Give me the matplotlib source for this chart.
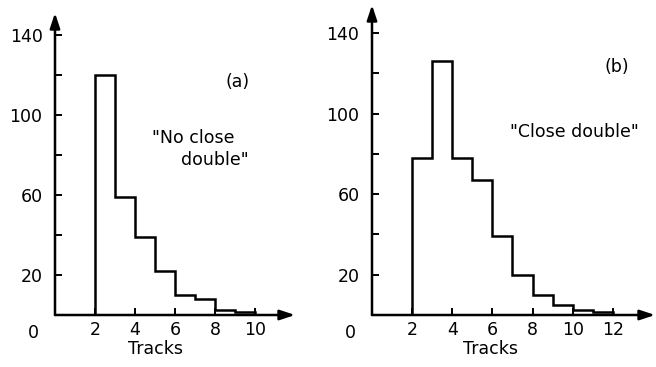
import matplotlib
matplotlib.use("Agg")
import matplotlib.pyplot as plt

# panel (a): "No close double"
edges_a = [2, 3, 4, 5, 6, 7, 8, 9, 10]
counts_a = [120, 59, 39, 22, 10, 8, 2.5, 1.5]
xticks_a = [2, 4, 6, 8, 10]

# panel (b): "Close double"
edges_b = [2, 3, 4, 5, 6, 7, 8, 9, 10, 11, 12]
counts_b = [78, 126, 78, 67, 39, 20, 10, 5, 2.5, 1.5]
xticks_b = [2, 4, 6, 8, 10, 12]

yticks_major = [20, 60, 100, 140]
yticks_minor = [40, 80, 120]

plt.rcParams['font.family'] = 'DejaVu Sans'
plt.rcParams['font.size'] = 12.5

W, H = 656, 367
fig = plt.figure(figsize=(W / 100, H / 100), dpi=100)

arrow = dict(arrowstyle='-|>,head_length=0.9,head_width=0.3', color='black',
             lw=1.8, shrinkA=0, shrinkB=0, mutation_scale=10)


def panel(rect, edges, counts, xticks, xmax, ymax, tag, tagpos, notes, tracks_x):
    ax = fig.add_axes(rect)
    ax.stairs(counts, edges, color='black', linewidth=1.8, baseline=0)
    ax.set_xlim(0, xmax)
    ax.set_ylim(0, ymax)
    for s in ax.spines.values():
        s.set_visible(False)
    # axes drawn as arrows
    ax.annotate('', xy=(1, 0), xytext=(0, 0), xycoords='axes fraction',
                textcoords='axes fraction', arrowprops=arrow)
    ax.annotate('', xy=(0, 1), xytext=(0, 0), xycoords='axes fraction',
                textcoords='axes fraction', arrowprops=arrow)
    ax.set_xticks(xticks)
    ax.set_yticks(yticks_major)
    ax.set_yticks(yticks_minor, minor=True)
    ax.tick_params(axis='both', which='both', direction='in', length=5, width=1.4)
    ax.tick_params(axis='y', pad=9)
    ax.tick_params(axis='x', pad=4)
    ax.text(-1.1, -9, '0', ha='center', va='center')
    ax.text(tracks_x, -17, 'Tracks', ha='center', va='center')
    ax.text(tagpos[0], tagpos[1], tag, ha='center', va='center')
    for x, y, s in notes:
        ax.text(x, y, s, ha='center', va='center')
    return ax


panel([55 / W, 52 / H, 240 / W, 302 / H], edges_a, counts_a, xticks_a, 12, 151,
      '(a)', (9.15, 116.5),
      [(6.9, 88.5, '"No close'), (8.0, 77.5, 'double"')], 5.0)

panel([372 / W, 52 / H, 283 / W, 310 / H], edges_b, counts_b, xticks_b, 14.1, 154,
      '(b)', (12.2, 123),
      [(10.1, 91, '"Close double"')], 5.9)

fig.savefig('out.png', dpi=100)
